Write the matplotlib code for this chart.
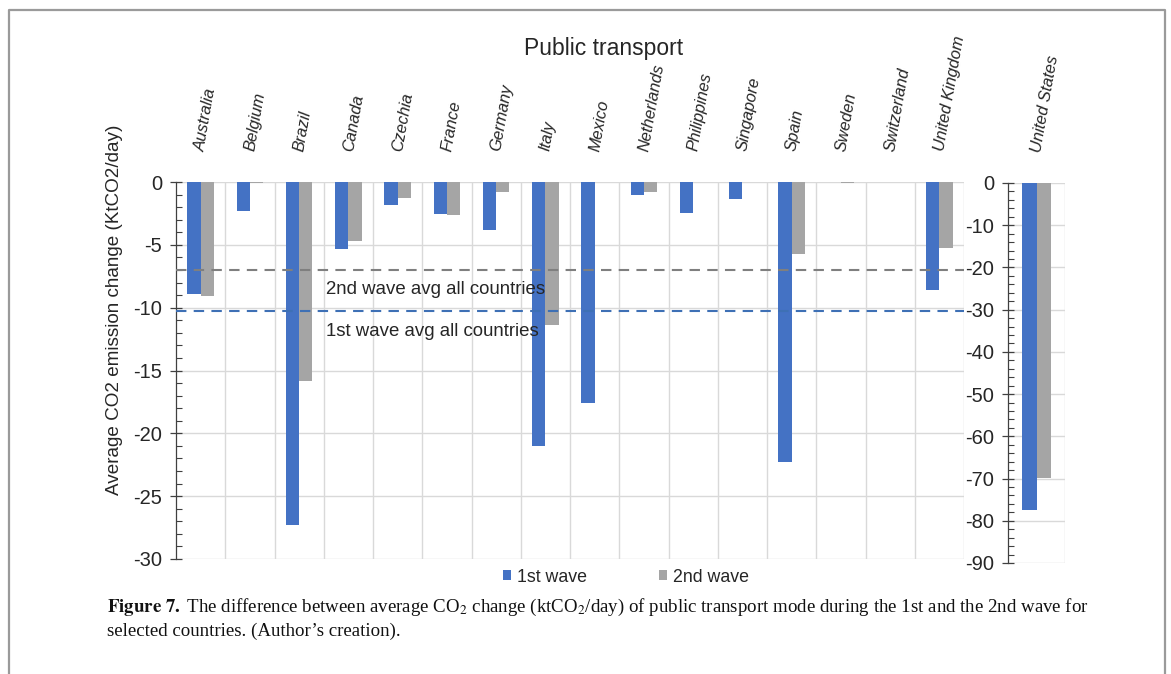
import matplotlib
matplotlib.use("Agg")
import matplotlib.pyplot as plt
from matplotlib.patches import Patch
from matplotlib.lines import Line2D
from matplotlib.ticker import MultipleLocator

# ---------------- data ----------------
countries = ['Australia', 'Belgium', 'Brazil', 'Canada', 'Czechia', 'France',
             'Germany', 'Italy', 'Mexico', 'Netherlands', 'Philippines',
             'Singapore', 'Spain', 'Sweden', 'Switzerland', 'United Kingdom']
wave1 = [-8.9, -2.3, -27.3, -5.35, -1.85, -2.55, -3.85, -21.0, -17.6,
         -1.05, -2.45, -1.35, -22.3, 0.0, 0.0, -8.6]
wave2 = [-9.1, -0.05, -15.8, -4.7, -1.25, -2.65, -0.8, -11.35, 0.0,
         -0.8, 0.0, 0.0, -5.75, -0.1, 0.0, -5.25]
us_country = ['United States']
us_wave1 = [-77.4]
us_wave2 = [-69.8]
avg_wave1 = -10.3
avg_wave2 = -7.0
series_names = ['1st wave', '2nd wave']
left_ticks = [0, -5, -10, -15, -20, -25, -30]
right_ticks = [0, -10, -20, -30, -40, -50, -60, -70, -80, -90]

# ---------------- style ----------------
BLUE = '#4472C4'
GRAY = '#A5A5A5'
GRID = '#D9D9D9'
TXT = '#262626'
SANS = ['Liberation Sans', 'DejaVu Sans']
SERIF = ['Liberation Serif', 'DejaVu Serif']
plt.rcParams['font.family'] = SANS
plt.rcParams['mathtext.fontset'] = 'stix'

W, H = 1171, 674
fig = plt.figure(figsize=(W / 100, H / 100), dpi=100)

def fx(px):
    return px / W

def fy(py):
    return 1 - py / H

# left (main) axes
ax = fig.add_axes([fx(176), fy(559), fx(964 - 176), (559 - 182) / H])
# right (US) axes
ax2 = fig.add_axes([fx(1008), fy(563), fx(1065 - 1008), (563 - 183) / H])

bw = 0.27
xs = list(range(len(countries)))
ax.bar([x - bw / 2 for x in xs], wave1, width=bw, color=BLUE, zorder=3)
ax.bar([x + bw / 2 for x in xs], wave2, width=bw, color=GRAY, zorder=3)
ax.set_xlim(-0.5, len(countries) - 0.5)
ax.set_ylim(-30, 0)

bw2 = 0.255
ax2.bar([-bw2 / 2], us_wave1, width=bw2, color=BLUE, zorder=3)
ax2.bar([bw2 / 2], us_wave2, width=bw2, color=GRAY, zorder=3)
ax2.set_xlim(-0.5, 0.5)
ax2.set_ylim(-90, 0)

for a, ticks, minor in ((ax, left_ticks, 1), (ax2, right_ticks, 2)):
    a.set_yticks(ticks)
    a.set_yticklabels([str(t) for t in ticks])
    a.yaxis.set_minor_locator(MultipleLocator(minor))
    a.tick_params(axis='y', which='major', direction='inout', length=8,
                  width=0.9, color='#404040', labelsize=14.5, labelcolor=TXT, pad=6)
    a.tick_params(axis='y', which='minor', direction='in', length=4,
                  width=0.8, color='#404040')
    a.set_xticks([])
    for s in ('top', 'right', 'bottom'):
        a.spines[s].set_visible(False)
    a.spines['left'].set_color('#404040')
    a.spines['left'].set_linewidth(0.9)
    for t in ticks:
        a.axhline(t, color=GRID, lw=1.0, zorder=1)

# vertical category gridlines
for k in range(len(countries)):
    ax.axvline(k + 0.5, color=GRID, lw=1.0, zorder=1)
ax2.axvline(0.5, color=GRID, lw=1.0, zorder=1)

# average lines
ax.axhline(avg_wave2, color='#7F7F7F', lw=1.5, ls=(0, (5, 3.5)), zorder=4)
ax.axhline(avg_wave1, color='#3E70B5', lw=1.5, ls=(0, (5, 3.5)), zorder=4)
ax.text(4.78, -8.55, '2nd wave avg all countries', ha='center', va='center',
        fontsize=13.4, color=TXT, zorder=5)
ax.text(4.70, -11.9, '1st wave avg all countries', ha='center', va='center',
        fontsize=13.4, color=TXT, zorder=5)

# country labels
for x, name in zip(xs, countries):
    ax.annotate(name, xy=(x, 0), xycoords='data', xytext=(0, 31),
                textcoords='offset pixels', rotation=80, rotation_mode='anchor',
                ha='left', va='center', fontsize=11.8, style='italic',
                color=TXT, annotation_clip=False)
for name in us_country:
    ax2.annotate(name, xy=(0, 0), xycoords='data', xytext=(0, 31),
                 textcoords='offset pixels', rotation=80, rotation_mode='anchor',
                 ha='left', va='center', fontsize=11.8, style='italic',
                 color=TXT, annotation_clip=False)

# title
fig.text(fx(604), fy(48), 'Public transport', ha='center', va='center',
         fontsize=16.5, color=TXT)

# y label
fig.text(fx(115), fy(310), 'Average CO2 emission change (KtCO2/day)',
         rotation=90, ha='center', va='center', fontsize=13.6, color=TXT)

# legend
handles = [Patch(facecolor=BLUE, edgecolor='none'),
           Patch(facecolor=GRAY, edgecolor='none')]
fig.legend(handles, series_names, loc='center', bbox_to_anchor=(fx(626), fy(577)),
           ncol=2, frameon=False, fontsize=12.8, handlelength=0.45,
           handleheight=0.45, handletextpad=0.35, columnspacing=4.0,
           labelcolor=TXT)

# caption
fig.text(fx(107), fy(607),
         r'$\mathbf{Figure\ 7.}$' + ' The difference between average CO$_2$ change (ktCO$_2$/day) '
         'of public transport mode during the 1st and the 2nd wave for',
         ha='left', va='center', fontsize=13.6, family=SERIF, color='#111111')
fig.text(fx(107), fy(631), 'selected countries. (Author\u2019s creation).',
         ha='left', va='center', fontsize=13.6, family=SERIF, color='#111111')

# page border (left, top, right)
fig.add_artist(Line2D([fx(9), fx(9), fx(1165), fx(1165)],
                      [0, fy(10), fy(10), 0], transform=fig.transFigure,
                      color='#9A9A9A', lw=1.6))

fig.savefig('out.png', dpi=100)
